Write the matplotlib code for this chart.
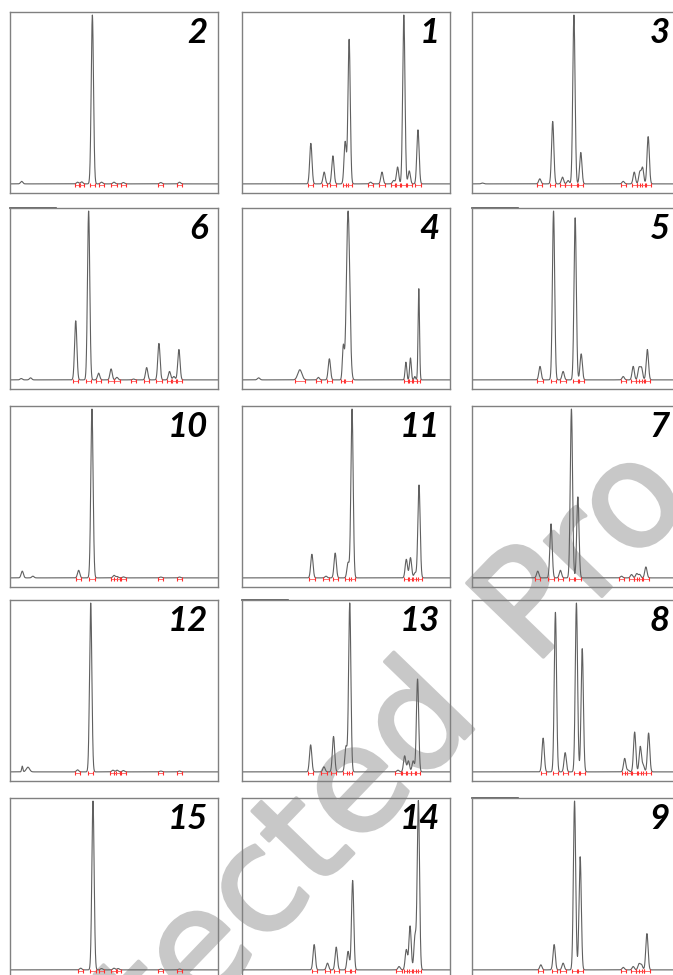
import numpy as np
import matplotlib
matplotlib.use('Agg')
import matplotlib.pyplot as plt
import matplotlib.patheffects as pe

# retention time (% of run) and relative height of each peak, per sample
pk1_rt = [33.1, 39.5, 43.7, 49.6, 51.5, 61.8, 67.3, 72.9, 74.8, 77.8, 80.4, 84.6]
pk1_h = [0.24, 0.07, 0.166, 0.25, 0.856, 0.01, 0.07, 0.02, 0.10, 1.0, 0.077, 0.32]

pk2_rt = [5.6, 32.5, 34.5, 39.6, 44.0, 50.0, 54.5, 72.5, 81.5]
pk2_h = [0.015, 0.01, 0.012, 1.0, 0.01, 0.01, 0.008, 0.008, 0.01]

pk3_rt = [5.0, 32.6, 38.8, 43.5, 46.2, 49.0, 52.3, 72.7, 78.0, 80.7, 82.0, 84.7]
pk3_h = [0.005, 0.03, 0.37, 0.04, 0.02, 1.0, 0.186, 0.015, 0.07, 0.07, 0.095, 0.28]

pk4_rt = [8.0, 27.8, 36.7, 42.0, 48.7, 51.0, 78.8, 81.0, 83.1, 85.0]
pk4_h = [0.012, 0.06, 0.015, 0.125, 0.194, 1.0, 0.105, 0.13, 0.02, 0.54]
pk4_w = [0.6, 1.0, 0.5, 0.55, 0.45, 0.8, 0.4, 0.4, 0.35, 0.35]

pk5_rt = [32.7, 39.2, 43.8, 49.6, 52.5, 72.7, 77.5, 80.3, 81.5, 84.3]
pk5_h = [0.08, 1.0, 0.05, 0.96, 0.154, 0.02, 0.08, 0.07, 0.07, 0.18]

pk6_rt = [5.4, 9.9, 31.6, 37.8, 42.6, 48.6, 51.4, 59.4, 65.7, 71.6, 76.7, 78.8, 81.2]
pk6_h = [0.008, 0.012, 0.35, 1.0, 0.04, 0.065, 0.015, 0.005, 0.073, 0.216, 0.05, 0.02, 0.18]

pk7_rt = [31.6, 38.0, 42.5, 47.8, 50.9, 71.9, 76.7, 79.2, 80.6, 83.6]
pk7_h = [0.04, 0.32, 0.045, 1.0, 0.48, 0.01, 0.02, 0.025, 0.02, 0.065]

pk8_rt = [34.2, 40.1, 44.8, 50.2, 53.0, 73.4, 75.0, 78.2, 80.9, 82.3, 84.9]
pk8_h = [0.2, 0.945, 0.114, 1.0, 0.73, 0.08, 0.01, 0.236, 0.15, 0.04, 0.23]

pk9_rt = [33.1, 39.5, 43.8, 49.3, 52.0, 72.7, 77.5, 80.3, 81.5, 84.1]
pk9_h = [0.03, 0.15, 0.04, 1.0, 0.67, 0.015, 0.02, 0.035, 0.03, 0.215]

pk10_rt = [5.9, 11.0, 33.0, 39.4, 50.0, 51.5, 54.5, 72.5, 81.5]
pk10_h = [0.04, 0.01, 0.045, 1.0, 0.015, 0.008, 0.006, 0.005, 0.005]

pk11_rt = [33.6, 40.4, 44.8, 51.0, 52.9, 79.0, 81.0, 83.2, 85.1]
pk11_h = [0.14, 0.01, 0.147, 0.09, 1.0, 0.11, 0.12, 0.03, 0.55]

pk12_rt = [5.9, 8.6, 32.5, 38.8, 49.5, 51.5, 54.5, 72.5, 81.5]
pk12_h = [0.034, 0.028, 0.012, 1.0, 0.01, 0.01, 0.008, 0.005, 0.005]
pk12_w = [0.3, 0.8, 0.55, 0.55, 0.55, 0.55, 0.55, 0.55, 0.55]

pk13_rt = [33.0, 39.4, 44.0, 50.0, 51.8, 75.0, 78.2, 80.0, 82.3, 84.4]
pk13_h = [0.16, 0.03, 0.21, 0.15, 1.0, 0.01, 0.095, 0.065, 0.065, 0.55]

pk14_rt = [34.7, 41.1, 45.3, 51.0, 53.2, 75.5, 79.0, 80.8, 83.2, 84.8]
pk14_h = [0.15, 0.04, 0.135, 0.11, 0.53, 0.02, 0.12, 0.26, 0.2, 1.0]

pk15_rt = [34.0, 39.9, 44.0, 50.0, 52.0, 72.5, 81.5]
pk15_h = [0.01, 1.0, 0.008, 0.01, 0.008, 0.005, 0.005]

# panel arrangement as in the figure
panel_grid = [[2, 1, 3],
              [6, 4, 5],
              [10, 11, 7],
              [12, 13, 8],
              [15, 14, 9]]

peaks = {
    1: (pk1_rt, pk1_h, None), 2: (pk2_rt, pk2_h, None), 3: (pk3_rt, pk3_h, None),
    4: (pk4_rt, pk4_h, pk4_w), 5: (pk5_rt, pk5_h, None), 6: (pk6_rt, pk6_h, None),
    7: (pk7_rt, pk7_h, None), 8: (pk8_rt, pk8_h, None), 9: (pk9_rt, pk9_h, None),
    10: (pk10_rt, pk10_h, None), 11: (pk11_rt, pk11_h, None), 12: (pk12_rt, pk12_h, pk12_w),
    13: (pk13_rt, pk13_h, None), 14: (pk14_rt, pk14_h, None), 15: (pk15_rt, pk15_h, None),
}
dark_corner = [6, 5, 13, 9]

W, H = 673, 975
fig = plt.figure(figsize=(W / 100, H / 100), dpi=100)

col_left = [10, 242, 472]
row_top = [12, 208, 406, 600, 798]
pw, ph = 208, 181

x = np.linspace(0, 100, 4000)

for r, row in enumerate(panel_grid):
    for c, num in enumerate(row):
        ax = fig.add_axes([col_left[c] / W, 1 - (row_top[r] + ph) / H, pw / W, ph / H])
        ax.patch.set_visible(False)
        rt, hh, ww = peaks[num]
        if ww is None:
            ww = [0.55] * len(rt)
        y = np.zeros_like(x)
        for p, h, w in zip(rt, hh, ww):
            y += h * np.exp(-0.5 * ((x - p) / w) ** 2)
        ax.plot(x, y, color='#606060', lw=0.8)

        # integration marks
        for p, h, w in zip(rt, hh, ww):
            if 25 < p < 90:
                a, b = p - 2.3 * w, p + 2.3 * w
                ax.plot([a, b], [-0.004, -0.004], color='#ff5a5a', lw=0.6)
                ax.plot([a, b], [-0.004, -0.004], ls='none', marker='|',
                        ms=3, mew=0.8, color='#ff3030')

        ax.set_xlim(0, 100)
        ax.set_ylim(-0.054, 1.018)
        ax.set_xticks([])
        ax.set_yticks([])
        for s in ax.spines.values():
            s.set_color('#808080')
            s.set_linewidth(1.0)
        if num in dark_corner:
            ax.plot([0, 0.22], [1, 1], transform=ax.transAxes, color='#505050',
                    lw=1.2, clip_on=False)
        ax.text(0.95, 0.975, str(num), transform=ax.transAxes, ha='right', va='top',
                fontsize=25, fontweight='bold', fontstyle='italic', family='Lato',
                color='black')

# watermark (under the traces)
fig.text(-0.003, -0.253, 'Protected\u2002Pro', fontsize=105, rotation=46,
         rotation_mode='anchor', ha='left', va='baseline', color='#c8c8c8',
         family='DejaVu Sans', zorder=-1,
         path_effects=[pe.withStroke(linewidth=2.5, foreground='#c8c8c8')])

fig.savefig('out.png', dpi=100)
